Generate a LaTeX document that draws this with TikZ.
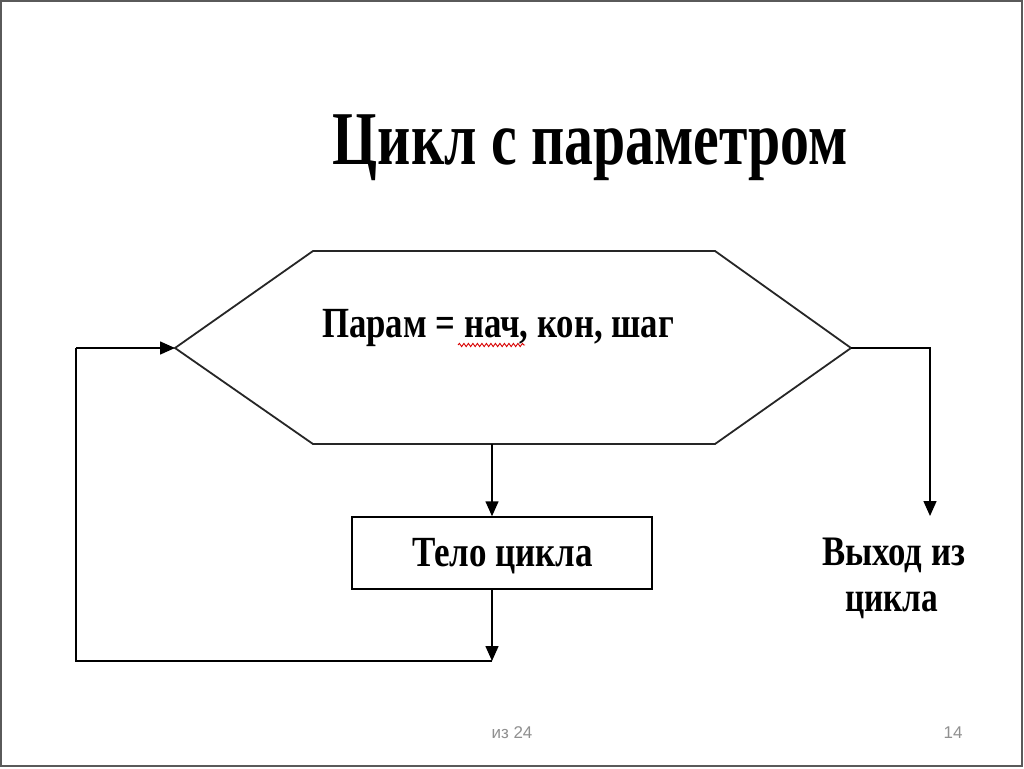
\documentclass[tikz,border=0pt]{standalone}
\usepackage{fontspec}
\setmainfont{Liberation Serif}
\newfontfamily\footfont{Liberation Sans}
\usetikzlibrary{arrows.meta,decorations.pathmorphing}
\definecolor{framegray}{HTML}{5A5A5A}
\definecolor{footgray}{HTML}{909090}
\tikzset{
  flow/.style={line width=1.5pt, draw=black},
  arr/.style={flow, -{Triangle[length=15pt,width=13pt]}},
  boxstyle/.style={draw=black, line width=1.5pt, minimum width=300pt, minimum height=72pt, inner sep=0pt},
  lbl/.style={anchor=base, inner sep=0pt},
  foot/.style={anchor=base, inner sep=0pt, text=footgray, font=\footfont\fontsize{17pt}{17pt}\selectfont}
}
\newcommand{\sq}[3]{\resizebox{#1}{\height}{\fontsize{#2}{#2}\selectfont\bfseries #3}}
\begin{document}
\begin{tikzpicture}[x=1pt,y=-1pt]
\useasboundingbox (0,0) rectangle (1024,768);
\fill[white] (0,0) rectangle (1024,768);
\draw[framegray, line width=2pt] (1,1) rectangle (1022,766);

% title
\node[lbl] (title) at (590.5,164) {\sq{515pt}{76pt}{Цикл с параметром}};

% hexagon
\coordinate (hTL) at (313,251);
\coordinate (hTR) at (715,251);
\coordinate (hR) at (851,348);
\coordinate (hBR) at (715,444);
\coordinate (hBL) at (313,444);
\coordinate (hL) at (175,348);
\coordinate (hB) at (492,444);
\draw[flow, line width=1.8pt, draw=black!85] (hTL) -- (hTR) -- (hR) -- (hBR) -- (hBL) -- (hL) -- cycle;
\node[lbl] (param) at (498,337) {\sq{352pt}{43pt}{Парам = нач, кон, шаг}};
\coordinate (wavyA) at (458,345);
\coordinate (wavyB) at (525,345);
\draw[red!85!black, line width=0.9pt, decorate, decoration={snake, amplitude=1.6pt, segment length=4.5pt}] (wavyA) -- (wavyB);

% body box
\node[boxstyle] (body) at (502,553) {};
\node[lbl] (bodytext) at (502.5,566) {\sq{181pt}{43pt}{Тело цикла}};

% exit
\coordinate (exitCorner) at (930,348);
\coordinate (exitEnd) at (930,516);
\node[lbl] (exit1) at (893.5,565) {\sq{143pt}{42pt}{Выход из}};
\node[lbl] (exit2) at (891.5,611) {\sq{93pt}{42pt}{цикла}};

% loop back
\coordinate (loopA) at (492,661);
\coordinate (loopB) at (76,661);
\coordinate (loopC) at (76,348);

% connectors
\draw[arr] (hB) -- (hB |- body.north);
\draw[arr] (hB |- body.south) -- (loopA);
\draw[flow] (loopA) -- (loopB) -- (loopC);
\draw[arr] (loopC) -- (hL);
\draw[arr] (hR) -- (exitCorner) -- (exitEnd);

% footer
\node[foot] (pg) at (512,738) {из 24};
\node[foot] (num) at (953,738) {14};
\end{tikzpicture}
\end{document}
